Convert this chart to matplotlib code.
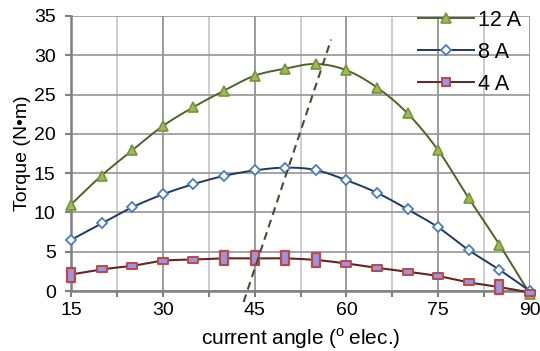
import numpy as np
import matplotlib
matplotlib.use("Agg")
import matplotlib.pyplot as plt
from matplotlib.ticker import MultipleLocator
from matplotlib.path import Path

plt.rcParams['font.family'] = ['Liberation Sans', 'DejaVu Sans']
plt.rcParams['mathtext.fontset'] = 'custom'
plt.rcParams['mathtext.rm'] = 'Liberation Sans'

# ---- data ----
angles = [15, 20, 25, 30, 35, 40, 45, 50, 55, 60, 65, 70, 75, 80, 85, 90]
torque_12A = [11.0, 14.7, 17.9, 21.0, 23.4, 25.5, 27.4, 28.3, 28.9, 28.1, 25.9, 22.6, 17.9, 11.8, 5.9, -0.4]
torque_8A = [6.5, 8.6, 10.65, 12.3, 13.6, 14.65, 15.35, 15.7, 15.4, 14.1, 12.5, 10.4, 8.1, 5.2, 2.7, 0.0]
torque_4A = [2.1, 2.75, 3.2, 3.85, 4.0, 4.15, 4.15, 4.15, 3.95, 3.5, 2.95, 2.45, 1.9, 1.1, 0.5, -0.2]
big_4A_angles = [15, 40, 45, 50, 55, 85]
guide_x = [43.2, 57.5]
guide_y = [-1.4, 32.0]
series_labels = ['12 A', '8 A', '4 A']
xticks = [15, 30, 45, 60, 75, 90]
yticks = [0, 5, 10, 15, 20, 25, 30, 35]


def smooth(x, y, n=30):
    x = np.asarray(x, float); y = np.asarray(y, float)
    px = np.concatenate([[x[0]], x, [x[-1]]])
    py = np.concatenate([[y[0]], y, [y[-1]]])
    xs, ys = [], []
    t = np.linspace(0, 1, n)
    for i in range(1, len(px) - 2):
        p0 = np.array([px[i], py[i]]); p3 = np.array([px[i + 1], py[i + 1]])
        p1 = p0 + (np.array([px[i + 1], py[i + 1]]) - np.array([px[i - 1], py[i - 1]])) / 6
        p2 = p3 - (np.array([px[i + 2], py[i + 2]]) - np.array([px[i], py[i]])) / 6
        b = ((1 - t) ** 3)[:, None] * p0 + (3 * (1 - t) ** 2 * t)[:, None] * p1 + \
            (3 * (1 - t) * t ** 2)[:, None] * p2 + (t ** 3)[:, None] * p3
        xs.extend(b[:, 0]); ys.extend(b[:, 1])
    return np.array(xs), np.array(ys)


fig = plt.figure(figsize=(5.4, 3.51), dpi=100)
ax = fig.add_axes([71 / 540, 1 - 291 / 351, (530 - 71) / 540, (291 - 16) / 351])

ax.set_xlim(15, 90)
ax.set_ylim(0, 35)
ax.xaxis.set_major_locator(MultipleLocator(15))
ax.xaxis.set_minor_locator(MultipleLocator(7.5))
ax.set_xticks(xticks)
ax.set_yticks(yticks)

ax.grid(True, which='major', axis='x', color='#8a8a8a', lw=1.2, zorder=0)
ax.grid(True, which='minor', axis='x', color='#c4c4c4', lw=1.2, zorder=0)
ax.grid(True, which='major', axis='y', color='#959595', lw=1.2, zorder=0)
ax.set_axisbelow(True)

for s in ['top', 'right']:
    ax.spines[s].set_visible(False)
for s in ['left', 'bottom']:
    ax.spines[s].set_color('#808080')
    ax.spines[s].set_linewidth(1.8)

ax.tick_params(axis='both', which='major', direction='out', length=4, width=1.5,
               color='#808080', labelsize=14)
ax.tick_params(axis='x', which='minor', direction='out', length=4, width=1.5, color='#808080')
ax.tick_params(axis='x', which='major', pad=4)
ax.tick_params(axis='y', which='major', pad=7)

# 12 A
sx, sy = smooth(angles, torque_12A)
ax.plot(sx, sy, color='#4f6228', lw=1.4, zorder=3, clip_on=False)
ax.plot(angles, torque_12A, ls='none', marker='^', ms=7.5, mfc='#9bbb59', mec='#77933c',
        mew=1.2, zorder=4, clip_on=False)
# 8 A
sx, sy = smooth(angles, torque_8A)
ax.plot(sx, sy, color='#1f3a5f', lw=1.4, zorder=3, clip_on=False)
ax.plot(angles, torque_8A, ls='none', marker='D', ms=5, mfc='white', mec='#4a7ebb',
        mew=1.3, zorder=4, clip_on=False)
# 4 A
sx, sy = smooth(angles, torque_4A)
ax.plot(sx, sy, color='#632523', lw=1.5, zorder=3, clip_on=False)
rect_small = Path([(-1, -0.7), (1, -0.7), (1, 0.7), (-1, 0.7), (-1, -0.7)],
                  [Path.MOVETO, Path.LINETO, Path.LINETO, Path.LINETO, Path.CLOSEPOLY])
rect_big = Path([(-0.6, -1), (0.6, -1), (0.6, 1), (-0.6, 1), (-0.6, -1)],
                [Path.MOVETO, Path.LINETO, Path.LINETO, Path.LINETO, Path.CLOSEPOLY])
small_x = [a for a in angles if a not in big_4A_angles]
small_y = [v for a, v in zip(angles, torque_4A) if a not in big_4A_angles]
big_y = [v for a, v in zip(angles, torque_4A) if a in big_4A_angles]
ax.plot(small_x, small_y, ls='none', marker=rect_small, ms=6.5, mfc='#9d94de', mec='#b94a48',
        mew=1.4, zorder=4, clip_on=False)
ax.plot(big_4A_angles, big_y, ls='none', marker=rect_big, ms=10, mfc='#9d94de', mec='#b94a48',
        mew=1.6, zorder=4, clip_on=False)

# dashed guide line
ax.plot(guide_x, guide_y, ls=(0, (3.8, 2.5)), color='#4d4a32', lw=1.5, zorder=5, clip_on=False)

ax.set_ylabel('Torque (N•m)', fontsize=14, labelpad=2)
ax.set_xlabel('current angle ($^{\\mathregular{o}}$\u2009elec.)', fontsize=15, labelpad=5.5)

# legend
h1, = ax.plot([], [], color='#4f6228', lw=1.4, marker='^', ms=7.5, mfc='#9bbb59', mec='#77933c', mew=1.2)
h2, = ax.plot([], [], color='#1f3a5f', lw=1.4, marker='D', ms=5, mfc='white', mec='#4a7ebb', mew=1.3)
h3, = ax.plot([], [], color='#632523', lw=1.4, marker='s', ms=6, mfc='#9d94de', mec='#b94a48', mew=1.4)
leg = fig.legend([h1, h2, h3], series_labels, loc='upper left',
                 bbox_to_anchor=(418 / 540, 1 - 10 / 351), frameon=False,
                 fontsize=15.5, handlelength=2.6, handletextpad=0.2,
                 labelspacing=0.5, borderpad=0, borderaxespad=0)

fig.savefig('out.png', dpi=100)
